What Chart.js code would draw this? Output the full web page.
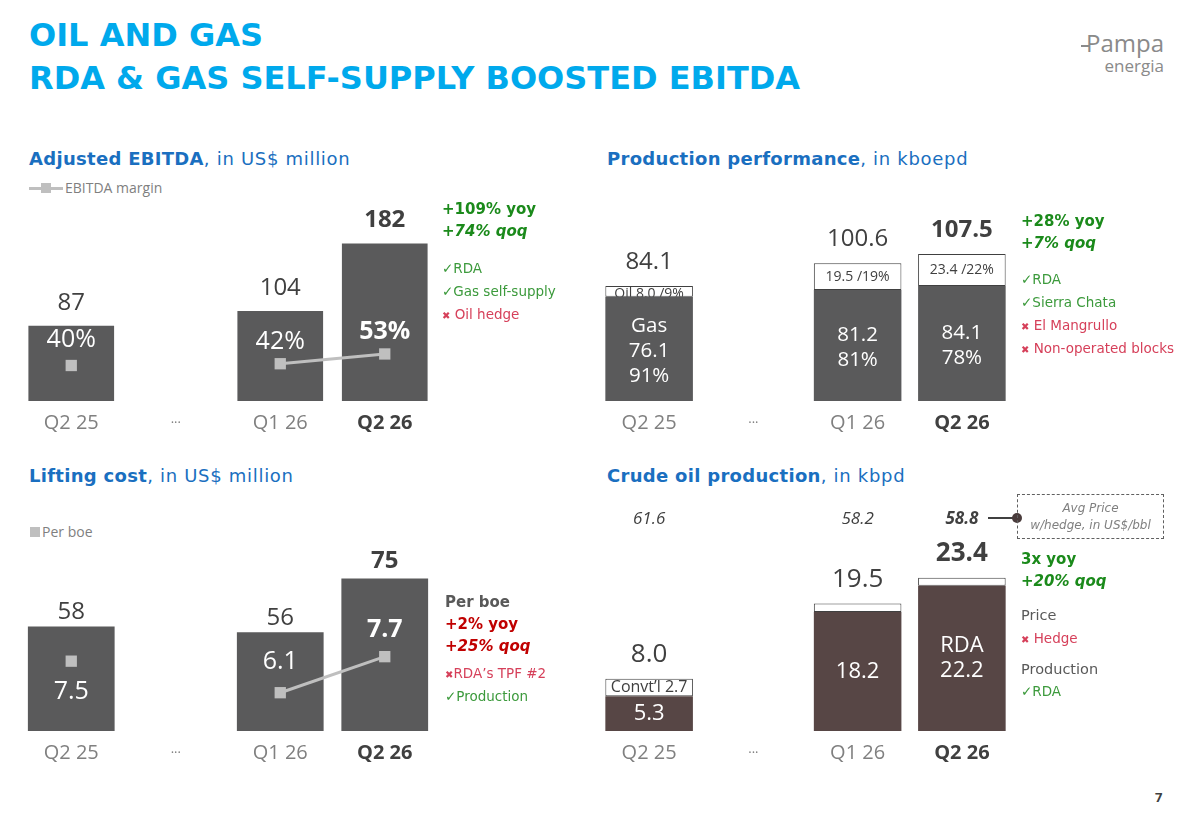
<!DOCTYPE html>
<html>
<head>
<meta charset="utf-8">
<title>Oil and Gas</title>
<script src="https://cdn.jsdelivr.net/npm/chart.js@4.4.1/dist/chart.umd.min.js"></script>
<style>
  body { margin: 0; background: #fff; }
  #slide { position: relative; width: 1192px; height: 825px; overflow: hidden; font-family: "Open Sans", sans-serif; color: #404040; }
  .abs { position: absolute; white-space: nowrap; line-height: 20px; }
  .head { left: 29px; font-family: "DejaVu Sans", sans-serif; font-weight: bold; color: #00a9ec; font-size: 32px; line-height: 36px; }
  .sec { font-family: "DejaVu Sans", sans-serif; font-size: 18px; color: #1a6fc0; letter-spacing: 0.7px; }
  .sec b { font-weight: bold; letter-spacing: 0.3px; }
  .note { font-family: "DejaVu Sans", sans-serif; font-size: 13.5px; }
  .big { font-family: "DejaVu Sans", sans-serif; font-size: 15px; font-weight: bold; }
  .g { color: #1b8a1b; }
  .lg { color: #3c9a3c; }
  .r { color: #d6405a; }
  .dr { color: #c00000; }
  .gr { color: #595959; }
  .x { font-size: 10px; font-weight: bold; }
  canvas { position: absolute; }
</style>
</head>
<body>
<div id="slide">
  <div class="abs head" style="top:17px">OIL AND GAS</div>
  <div class="abs head" style="top:60px">RDA &amp; GAS SELF-SUPPLY BOOSTED EBITDA</div>

  <!-- logo -->
  <div class="abs" style="right:28px; top:31px; font-size:24px; line-height:24px; color:#8a8a8a; font-family:'Open Sans',sans-serif;"><span style="display:inline-block;width:8px;height:2px;background:#8a8a8a;vertical-align:middle;margin-right:-3px"></span>Pampa</div>
  <div class="abs" style="right:28px; top:56px; font-size:17px; color:#8a8a8a;">energia</div>

  <div class="abs sec" style="left:29px; top:149px"><b>Adjusted EBITDA</b>, in US$ million</div>
  <div class="abs sec" style="left:607px; top:149px"><b>Production performance</b>, in kboepd</div>
  <div class="abs sec" style="left:29px; top:466px"><b>Lifting cost</b>, in US$ million</div>
  <div class="abs sec" style="left:607px; top:466px"><b>Crude oil production</b>, in kbpd</div>

  <!-- legends -->
  <div class="abs" style="left:29px; top:187px; width:34px; height:3px; background:#bfbfbf"></div>
  <div class="abs" style="left:41px; top:183px; width:10px; height:10px; background:#bfbfbf"></div>
  <div class="abs" style="left:65px; top:178px; font-size:14px; color:#7f7f7f">EBITDA margin</div>
  <div class="abs" style="left:30px; top:527px; width:10px; height:10px; background:#bfbfbf"></div>
  <div class="abs" style="left:42px; top:522px; font-size:14px; color:#7f7f7f">Per boe</div>

  <canvas id="ebitdaChart" width="460" height="271" style="left:0; top:180px"></canvas>
  <canvas id="prodChart" width="460" height="271" style="left:580px; top:180px"></canvas>
  <canvas id="liftChart" width="460" height="291" style="left:0; top:500px"></canvas>
  <canvas id="crudeChart" width="460" height="291" style="left:580px; top:500px"></canvas>

  <!-- notes: EBITDA -->
  <div class="abs big g" style="left:442px; top:199px">+109% yoy</div>
  <div class="abs big g" style="left:442px; top:221px; font-style:italic">+74% qoq</div>
  <div class="abs note lg" style="left:442px; top:258px">✓RDA</div>
  <div class="abs note lg" style="left:442px; top:281px">✓Gas self-supply</div>
  <div class="abs note r" style="left:442px; top:304px"><span class="x">✖</span> Oil hedge</div>

  <!-- notes: production -->
  <div class="abs big g" style="left:1021px; top:211px">+28% yoy</div>
  <div class="abs big g" style="left:1021px; top:233px; font-style:italic">+7% qoq</div>
  <div class="abs note lg" style="left:1021px; top:269px">✓RDA</div>
  <div class="abs note lg" style="left:1021px; top:292px">✓Sierra Chata</div>
  <div class="abs note r" style="left:1021px; top:315px"><span class="x">✖</span> El Mangrullo</div>
  <div class="abs note r" style="left:1021px; top:338px"><span class="x">✖</span> Non-operated blocks</div>

  <!-- notes: lifting cost -->
  <div class="abs big gr" style="left:445px; top:592px">Per boe</div>
  <div class="abs big dr" style="left:445px; top:614px">+2% yoy</div>
  <div class="abs big dr" style="left:445px; top:636px; font-style:italic">+25% qoq</div>
  <div class="abs note r" style="left:445px; top:663px"><span class="x">✖</span>RDA’s TPF #2</div>
  <div class="abs note lg" style="left:445px; top:686px">✓Production</div>

  <!-- notes: crude -->
  <div class="abs" style="left:988px; top:517px; width:29px; height:2px; background:#404040"></div>
  <div class="abs" style="left:1012px; top:513px; width:10px; height:10px; border-radius:5px; background:#4a3c3c"></div>
  <div class="abs" style="left:1017px; top:494px; width:147px; height:45px; border:1px dashed #606060; text-align:center; font-family:'DejaVu Sans',sans-serif; font-style:italic; font-size:12px; color:#808080; line-height:17px; padding-top:5px; box-sizing:border-box">Avg Price<br>w/hedge, in US$/bbl</div>
  <div class="abs big g" style="left:1021px; top:549px">3x yoy</div>
  <div class="abs big g" style="left:1021px; top:571px; font-style:italic">+20% qoq</div>
  <div class="abs note gr" style="left:1021px; top:605px; font-size:14.5px">Price</div>
  <div class="abs note r" style="left:1021px; top:628px"><span class="x">✖</span> Hedge</div>
  <div class="abs note gr" style="left:1021px; top:659px; font-size:14.5px">Production</div>
  <div class="abs note lg" style="left:1021px; top:681px">✓RDA</div>

  <div class="abs" style="left:1155px; top:787px; font-weight:bold; font-size:13px">7</div>
</div>

<script>
// quarters shown on every chart ("..." is a gap)
const quarters = ['Q2 25', '...', 'Q1 26', 'Q2 26'];

// Adjusted EBITDA
const ebitda = [87, null, 104, 182];
const ebitdaMargin = [40, null, 42, 53];

// Production performance, kboepd
const prodGas = [76.1, null, 81.2, 84.1];
const prodOil = [8.0, null, 19.5, 23.4];
const prodTotal = [84.1, null, 100.6, 107.5];
const gasShare = [91, null, 81, 78];
const oilShare = [9, null, 19, 22];

// Lifting cost
const liftCost = [58, null, 56, 75];
const liftPerBoe = [7.5, null, 6.1, 7.7];

// Crude oil production, kbpd
const crudeMain = [5.3, null, 18.2, 22.2];
const crudeOther = [2.7, null, 1.3, 1.2];
const crudeTotal = [8.0, null, 19.5, 23.4];
const avgPrice = [61.6, null, 58.2, 58.8];

const FONT = '"Open Sans", sans-serif';
const GREY_BAR = '#5a5a5b';
const BROWN_BAR = '#574645';
const TXT = '#404040';

function txt(ctx, s, x, y, size, bold, color, italic) {
    ctx.save();
    ctx.font = (italic ? 'italic ' : '') + (bold ? 'bold ' : '') + size + 'px ' + FONT;
    ctx.fillStyle = color;
    ctx.textAlign = 'center';
    ctx.textBaseline = 'middle';
    ctx.fillText(s, x, y);
    ctx.restore();
}

// shared x axis: "Q2 26" bold, "..." small
function xAxis() {
    return {
        stacked: true,
        grid: { display: false, drawTicks: false },
        border: { display: false },
        ticks: {
            padding: 10,
            color: c => c.index === 3 ? '#404040' : '#808080',
            font: c => ({ family: FONT, size: c.index === 1 ? 13 : 20, weight: c.index === 3 ? 'bold' : 'normal' })
        }
    };
}

function baseOptions(padding, yAxes) {
    const scales = { x: xAxis() };
    Object.keys(yAxes).forEach(k => {
        scales[k] = Object.assign({ display: false, stacked: k === 'y' }, yAxes[k]);
    });
    return {
        responsive: false,
        animation: false,
        layout: { padding: padding },
        plugins: { legend: { display: false }, tooltip: { enabled: false } },
        scales: scales
    };
}

function lineSet(data) {
    return {
        type: 'line', data: data, yAxisID: 'y2',
        borderColor: '#bfbfbf', backgroundColor: '#bfbfbf', borderWidth: 3,
        pointStyle: 'rect', pointRadius: 8, pointHoverRadius: 8, pointBorderWidth: 0,
        spanGaps: false, order: 0
    };
}

// Adjusted EBITDA
new Chart(document.getElementById('ebitdaChart'), {
    type: 'bar',
    data: {
        labels: quarters,
        datasets: [
            lineSet(ebitdaMargin),
            { data: ebitda, backgroundColor: GREY_BAR, barPercentage: 0.82, categoryPercentage: 1, order: 1 }
        ]
    },
    options: baseOptions({ left: 19, right: 23, top: 0, bottom: 6 }, { y: { min: 0, max: 246 }, y2: { min: 0, max: 240 } }),
    plugins: [{
        id: 'ebitdaLabels',
        afterDatasetsDraw(chart) {
            const ctx = chart.ctx;
            const bars = chart.getDatasetMeta(1).data;
            const pts = chart.getDatasetMeta(0).data;
            ebitda.forEach((v, i) => {
                if (v == null) return;
                txt(ctx, String(v), bars[i].x, bars[i].y - 23, 24, i === 3, TXT);
                txt(ctx, ebitdaMargin[i] + '%', pts[i].x, pts[i].y - (i === 0 ? 26 : 22), 25, i === 3, '#fff');
            });
        }
    }]
});

// Production performance
new Chart(document.getElementById('prodChart'), {
    type: 'bar',
    data: {
        labels: quarters,
        datasets: [
            { data: prodGas, backgroundColor: GREY_BAR, barPercentage: 0.84, categoryPercentage: 1 },
            { data: prodOil, backgroundColor: '#fff', borderColor: TXT, borderWidth: 1, borderSkipped: false, barPercentage: 0.84, categoryPercentage: 1 }
        ]
    },
    options: baseOptions({ left: 17, right: 26, top: 0, bottom: 6 }, { y: { min: 0, max: 161.5 } }),
    plugins: [{
        id: 'prodLabels',
        afterDatasetsDraw(chart) {
            const ctx = chart.ctx;
            const gas = chart.getDatasetMeta(0).data;
            const oil = chart.getDatasetMeta(1).data;
            prodTotal.forEach((v, i) => {
                if (v == null) return;
                const o = oil[i], g = gas[i];
                txt(ctx, v.toFixed(1), o.x, o.y - 24, 24, i === 3, TXT);
                const oilLabel = (i === 0 ? 'Oil ' : '') + prodOil[i].toFixed(1) + ' /' + oilShare[i] + '%';
                ctx.save();
                ctx.beginPath();
                ctx.rect(o.x - o.width / 2, o.y, o.width, o.base - o.y);
                ctx.clip();
                txt(ctx, oilLabel, o.x, (o.y + o.base) / 2 + (i === 0 ? 3 : 0), 14, false, TXT);
                ctx.restore();
                const lines = (i === 0 ? ['Gas'] : []).concat([prodGas[i].toFixed(1), gasShare[i] + '%']);
                const mid = (g.y + g.base) / 2;
                lines.forEach((s, k) => {
                    txt(ctx, s, g.x, mid + 2 + (k - (lines.length - 1) / 2) * 25, 20.5, false, '#fff');
                });
            });
        }
    }]
});

// Lifting cost
new Chart(document.getElementById('liftChart'), {
    type: 'bar',
    data: {
        labels: quarters,
        datasets: [
            lineSet(liftPerBoe),
            { data: liftCost, backgroundColor: GREY_BAR, barPercentage: 0.83, categoryPercentage: 1, order: 1 }
        ]
    },
    options: baseOptions({ left: 19, right: 23, top: 0, bottom: 16 }, { y: { min: 21, max: 100 }, y2: { min: 4.4, max: 14.3 } }),
    plugins: [{
        id: 'liftLabels',
        afterDatasetsDraw(chart) {
            const ctx = chart.ctx;
            const bars = chart.getDatasetMeta(1).data;
            const pts = chart.getDatasetMeta(0).data;
            liftCost.forEach((v, i) => {
                if (v == null) return;
                txt(ctx, String(v), bars[i].x, bars[i].y - (i === 3 ? 17 : 14), 24, i === 3, TXT);
                const dy = i === 0 ? 31 : (i === 3 ? -27 : -31);
                txt(ctx, liftPerBoe[i].toFixed(1), pts[i].x, pts[i].y + dy, 25, i === 3, '#fff');
            });
        }
    }]
});

// Crude oil production
new Chart(document.getElementById('crudeChart'), {
    type: 'bar',
    data: {
        labels: quarters,
        datasets: [
            { data: crudeMain, backgroundColor: BROWN_BAR, barPercentage: 0.84, categoryPercentage: 1 },
            { data: crudeOther, backgroundColor: '#fff', borderColor: TXT, borderWidth: 1, borderSkipped: false, barPercentage: 0.84, categoryPercentage: 1 }
        ]
    },
    options: baseOptions({ left: 17, right: 26, top: 0, bottom: 16 }, { y: { min: 0, max: 35.3 } }),
    plugins: [{
        id: 'crudeLabels',
        afterDatasetsDraw(chart) {
            const ctx = chart.ctx;
            const main = chart.getDatasetMeta(0).data;
            const other = chart.getDatasetMeta(1).data;
            crudeTotal.forEach((v, i) => {
                if (v == null) return;
                const m = main[i], o = other[i];
                txt(ctx, v.toFixed(1), o.x, o.y - 24, 26, i === 3, TXT);
                txt(ctx, avgPrice[i].toFixed(1), o.x, 19, 17, i === 3, TXT, true);
                if (i === 0) txt(ctx, 'Convt\u2019l ' + crudeOther[i].toFixed(1), o.x, (o.y + o.base) / 2, 16, false, TXT);
                const lines = (i === 3 ? ['RDA'] : []).concat([crudeMain[i].toFixed(1)]);
                const mid = (m.y + m.base) / 2;
                lines.forEach((s, k) => {
                    txt(ctx, s, m.x, mid + (k - (lines.length - 1) / 2) * 25, 22, false, '#fff');
                });
            });
        }
    }]
});
</script>
</body>
</html>
